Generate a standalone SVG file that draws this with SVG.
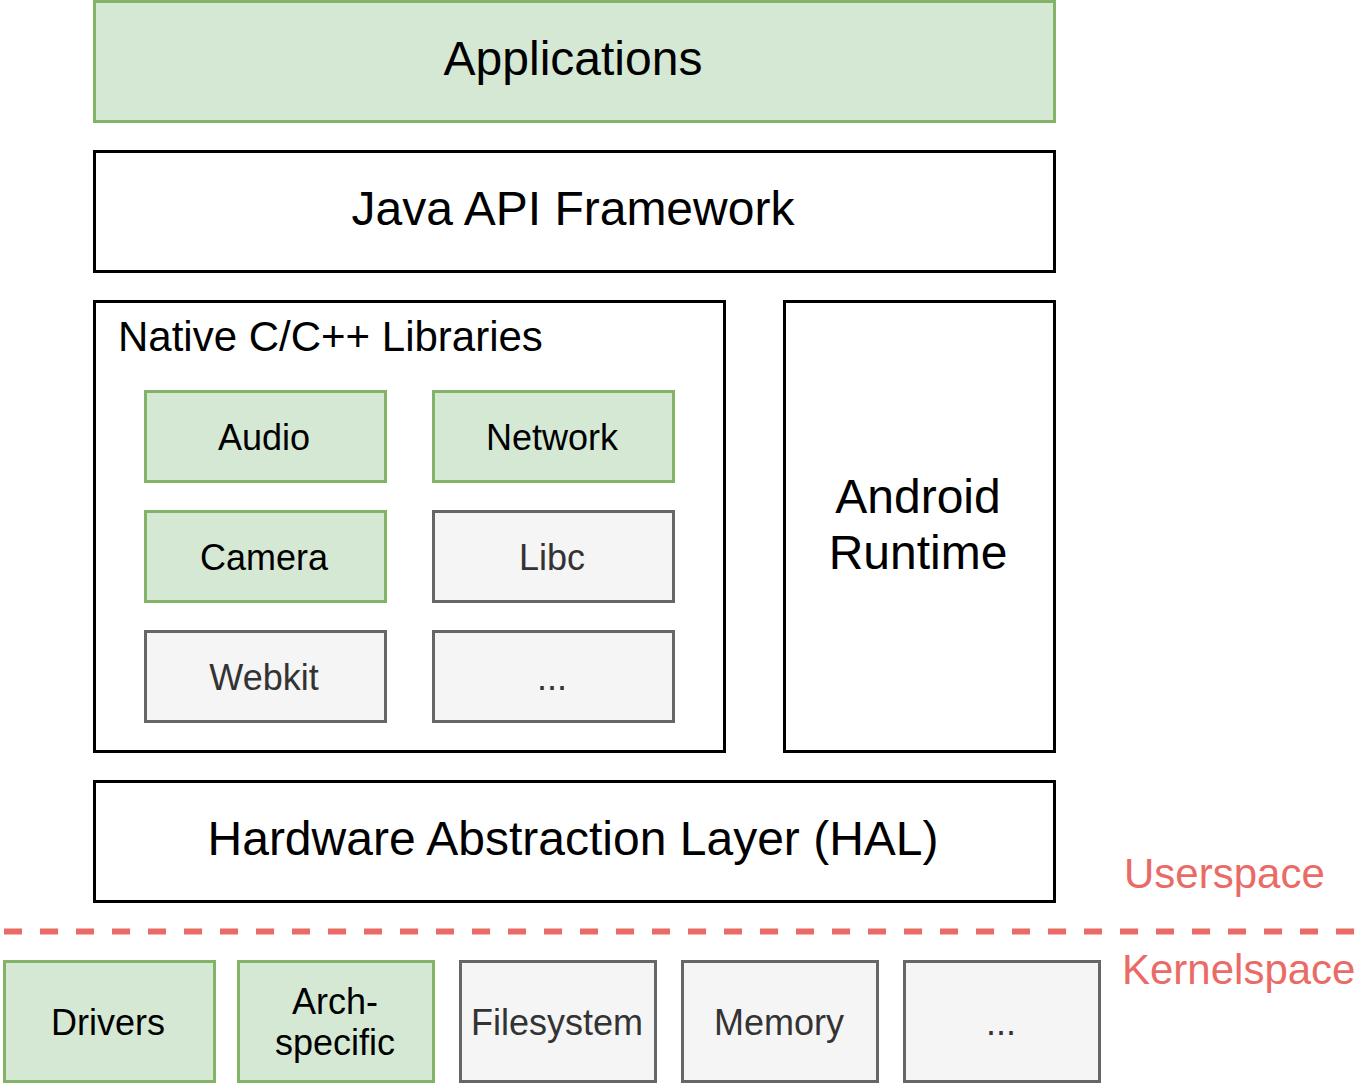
<svg xmlns="http://www.w3.org/2000/svg" width="1359" height="1086" viewBox="0 0 1359 1086">
<style>
text{font-family:"Liberation Sans",Arial,Helvetica,sans-serif;text-anchor:middle}
.g{fill:#d5e8d4;stroke:#82b366;stroke-width:3}
.w{fill:#ffffff;stroke:#000000;stroke-width:3}
.s{fill:#f5f5f5;stroke:#666666;stroke-width:3}
.big{font-size:48px;fill:#000}
.mid{font-size:36px;fill:#000}
.midg{font-size:36px;fill:#333333}
.red{font-size:42px;fill:#ea6b66;text-anchor:start}
.lbl{font-size:42px;fill:#000;text-anchor:start}
</style>
<rect width="1359" height="1086" fill="#ffffff"/>
<g id="applications"><rect class="g" x="94.5" y="1.5" width="960" height="120"/><text class="big" x="573" y="75">Applications</text></g>
<g id="java-api"><rect class="w" x="94.5" y="151.5" width="960" height="120"/><text class="big" x="573" y="225">Java API Framework</text></g>
<g id="native"><rect class="w" x="94.5" y="301.5" width="630" height="450"/><text class="lbl" x="118" y="351">Native C/C++ Libraries</text></g>
<g id="audio"><rect class="g" x="145.5" y="391.5" width="240" height="90"/><text class="mid" x="264" y="450">Audio</text></g>
<g id="network"><rect class="g" x="433.5" y="391.5" width="240" height="90"/><text class="mid" x="552" y="450">Network</text></g>
<g id="camera"><rect class="g" x="145.5" y="511.5" width="240" height="90"/><text class="mid" x="264" y="570">Camera</text></g>
<g id="libc"><rect class="s" x="433.5" y="511.5" width="240" height="90"/><text class="midg" x="552" y="570">Libc</text></g>
<g id="webkit"><rect class="s" x="145.5" y="631.5" width="240" height="90"/><text class="midg" x="264" y="690">Webkit</text></g>
<g id="more-libs"><rect class="s" x="433.5" y="631.5" width="240" height="90"/><text class="midg" x="552" y="690">...</text></g>
<g id="android-runtime"><rect class="w" x="784.5" y="301.5" width="270" height="450"/><text class="big" x="918" y="513">Android</text><text class="big" x="918" y="569">Runtime</text></g>
<g id="hal"><rect class="w" x="94.5" y="781.5" width="960" height="120"/><text class="big" x="573" y="855">Hardware Abstraction Layer (HAL)</text></g>
<g id="connectors"><line x1="4" y1="931.5" x2="1359" y2="931.5" stroke="#ea6b66" stroke-width="6" stroke-dasharray="18 18"/></g>
<g id="userspace"><text class="red" x="1124" y="888">Userspace</text></g>
<g id="kernelspace"><text class="red" x="1122" y="984">Kernelspace</text></g>
<g id="drivers"><rect class="g" x="4.5" y="961.5" width="210" height="120"/><text class="mid" x="108" y="1035">Drivers</text></g>
<g id="arch"><rect class="g" x="238.5" y="961.5" width="195" height="120"/><text class="mid" x="335" y="1014">Arch-</text><text class="mid" x="335" y="1055">specific</text></g>
<g id="filesystem"><rect class="s" x="460.5" y="961.5" width="195" height="120"/><text class="midg" x="557" y="1035">Filesystem</text></g>
<g id="memory"><rect class="s" x="682.5" y="961.5" width="195" height="120"/><text class="midg" x="779" y="1035">Memory</text></g>
<g id="more-kernel"><rect class="s" x="904.5" y="961.5" width="195" height="120"/><text class="midg" x="1001" y="1035">...</text></g>
</svg>
